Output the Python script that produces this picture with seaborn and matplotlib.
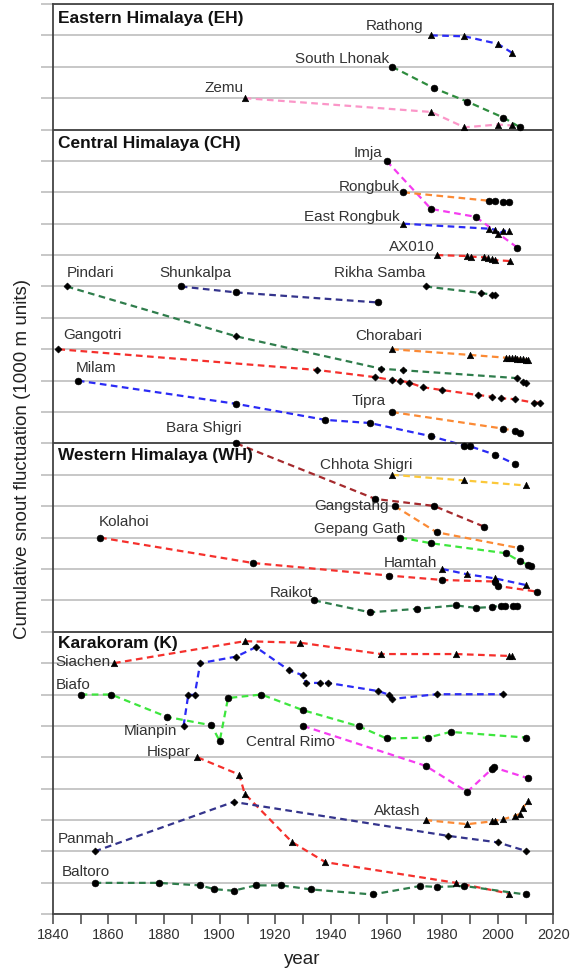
import matplotlib
matplotlib.use("Agg")
import matplotlib.pyplot as plt
import seaborn as sns
import pandas as pd
from matplotlib.transforms import blended_transform_factory

# ---------------- data (cumulative snout fluctuation, 1000 m units, relative to first survey) -------------
# Eastern Himalaya
rathong_years = [1976, 1988, 2000, 2005]
rathong_vals = [0, -0.03, -0.27, -0.55]
south_lhonak_years = [1962, 1977, 1989, 2002, 2008]
south_lhonak_vals = [0, -0.68, -1.11, -1.62, -1.93]
zemu_years = [1909, 1976, 1988, 2000, 2005]
zemu_vals = [0, -0.44, -0.93, -0.84, -0.87]
# Central Himalaya
imja_years = [1960, 1976, 1992, 2007]
imja_vals = [0, -1.53, -1.78, -2.76]
rongbuk_years = [1966, 1997, 1999, 2002, 2004]
rongbuk_vals = [0, -0.27, -0.27, -0.31, -0.32]
east_rongbuk_years = [1966, 1997, 1999, 2000, 2002, 2004]
east_rongbuk_vals = [0, -0.16, -0.19, -0.34, -0.23, -0.23]
ax010_years = [1978, 1989, 1990.5, 1995, 1996.5, 1998, 1999, 2004.5]
ax010_vals = [0, -0.03, -0.05, -0.07, -0.09, -0.13, -0.16, -0.19]
rikha_samba_years = [1974, 1994, 1998, 1999]
rikha_samba_vals = [0, -0.21, -0.26, -0.28]
pindari_years = [1845, 1906, 1958, 1966, 2007, 2009, 2010]
pindari_vals = [0, -1.59, -2.62, -2.67, -2.92, -3.03, -3.08]
shunkalpa_years = [1886, 1906, 1957]
shunkalpa_vals = [0, -0.19, -0.51]
gangotri_years = [1842, 1935, 1956, 1962, 1965, 1968, 1973, 1980, 1993, 1998, 2001, 2006, 2013, 2015]
gangotri_vals = [0, -0.66, -0.89, -0.98, -1.00, -1.06, -1.21, -1.30, -1.46, -1.51, -1.56, -1.59, -1.70, -1.70]
chorabari_years = [1962, 1990, 2003, 2004, 2005, 2006, 2007, 2008, 2009, 2010, 2011]
chorabari_vals = [0, -0.18, -0.27, -0.28, -0.29, -0.29, -0.30, -0.31, -0.32, -0.33, -0.34]
milam_years = [1849, 1906, 1938, 1954, 1976, 1988, 1990, 1999, 2006]
milam_vals = [0, -0.74, -1.25, -1.35, -1.77, -2.07, -2.09, -2.36, -2.65]
tipra_years = [1962, 2002, 2006, 2008]
tipra_vals = [0, -0.53, -0.60, -0.67]
bara_shigri_years = [1906, 1956, 1977, 1995]
bara_shigri_vals = [0, -1.77, -1.99, -2.65]
# Western Himalaya
chhota_shigri_years = [1962, 1988, 2010]
chhota_shigri_vals = [0, -0.18, -0.34]
gangstang_years = [1963, 1978, 2008]
gangstang_vals = [0, -0.83, -1.34]
gepang_gath_years = [1965, 1976, 2003, 2008, 2011, 2012]
gepang_gath_vals = [0, -0.18, -0.50, -0.76, -0.87, -0.92]
hamtah_years = [1980, 1989, 1999, 2010]
hamtah_vals = [0, -0.17, -0.30, -0.51]
kolahoi_years = [1857, 1912, 1961, 1980, 1999, 2000, 2014]
kolahoi_vals = [0, -0.81, -1.21, -1.35, -1.40, -1.54, -1.72]
raikot_years = [1934, 1954, 1971, 1985, 1992, 1998, 2001, 2002.5, 2005.5, 2007]
raikot_vals = [0, -0.38, -0.27, -0.16, -0.24, -0.21, -0.17, -0.17, -0.17, -0.17]
# Karakoram
siachen_years = [1862, 1909, 1929, 1958, 1985, 2004, 2005]
siachen_vals = [0, 0.70, 0.65, 0.29, 0.29, 0.23, 0.23]
biafo_years = [1850, 1861, 1881, 1897, 1900, 1903, 1915, 1930, 1950, 1960, 1975, 1983, 2010]
biafo_vals = [0, 0, -0.71, -0.98, -1.48, -0.11, 0, -0.50, -1.01, -1.40, -1.37, -1.19, -1.37]
mianpin_years = [1887, 1888.7, 1891, 1893, 1906, 1913, 1925, 1930, 1931, 1936, 1939, 1957, 1961, 1962, 1978, 2002]
mianpin_vals = [0, 0.99, 0.99, 2.0, 2.21, 2.51, 1.77, 1.61, 1.37, 1.37, 1.37, 1.11, 0.99, 0.86, 1.01, 1.01]
central_rimo_years = [1930, 1974, 1989, 1998, 1998.5, 2011]
central_rimo_vals = [0, -1.27, -2.10, -1.36, -1.32, -1.67]
hispar_years = [1892, 1907, 1909, 1926, 1938, 1985, 2004]
hispar_vals = [0, -0.55, -1.16, -2.70, -3.34, -4.00, -4.34]
aktash_years = [1974, 1989, 1998, 1999, 2002, 2006, 2008, 2009, 2011]
aktash_vals = [0, -0.13, -0.04, -0.02, 0.03, 0.13, 0.20, 0.40, 0.61]
panmah_years = [1855, 1905, 1982, 2000, 2010]
panmah_vals = [0, 1.58, 0.50, 0.29, 0.02]
baltoro_years = [1855, 1878, 1893, 1898, 1905, 1913, 1922, 1933, 1955, 1972, 1978, 1988, 2010]
baltoro_vals = [0, 0, -0.08, -0.20, -0.25, -0.08, -0.08, -0.21, -0.37, -0.10, -0.13, -0.10, -0.37]

series = [
    ("Rathong", rathong_years, rathong_vals),
    ("South Lhonak", south_lhonak_years, south_lhonak_vals),
    ("Zemu", zemu_years, zemu_vals),
    ("Imja", imja_years, imja_vals),
    ("Rongbuk", rongbuk_years, rongbuk_vals),
    ("East Rongbuk", east_rongbuk_years, east_rongbuk_vals),
    ("AX010", ax010_years, ax010_vals),
    ("Rikha Samba", rikha_samba_years, rikha_samba_vals),
    ("Pindari", pindari_years, pindari_vals),
    ("Shunkalpa", shunkalpa_years, shunkalpa_vals),
    ("Gangotri", gangotri_years, gangotri_vals),
    ("Chorabari", chorabari_years, chorabari_vals),
    ("Milam", milam_years, milam_vals),
    ("Tipra", tipra_years, tipra_vals),
    ("Bara Shigri", bara_shigri_years, bara_shigri_vals),
    ("Chhota Shigri", chhota_shigri_years, chhota_shigri_vals),
    ("Gangstang", gangstang_years, gangstang_vals),
    ("Gepang Gath", gepang_gath_years, gepang_gath_vals),
    ("Hamtah", hamtah_years, hamtah_vals),
    ("Kolahoi", kolahoi_years, kolahoi_vals),
    ("Raikot", raikot_years, raikot_vals),
    ("Siachen", siachen_years, siachen_vals),
    ("Biafo", biafo_years, biafo_vals),
    ("Mianpin", mianpin_years, mianpin_vals),
    ("Central Rimo", central_rimo_years, central_rimo_vals),
    ("Hispar", hispar_years, hispar_vals),
    ("Aktash", aktash_years, aktash_vals),
    ("Panmah", panmah_years, panmah_vals),
    ("Baltoro", baltoro_years, baltoro_vals),
]

regions = ["Eastern Himalaya (EH)", "Central Himalaya (CH)", "Western Himalaya (WH)", "Karakoram (K)"]

# ---------------- layout / style (offset gridline, colour, marker, label placement) -------------
BLUE, NAVY, DGREEN, GREEN, LGREEN = "#2b2bf5", "#34348c", "#2f7d4c", "#2e8c3e", "#3ee63e"
RED, DRED, ORANGE, GOLD, MAGENTA, PINK = "#f5302c", "#a52a2d", "#fb8a35", "#fbc83a", "#f53cf0", "#fb96c8"
style = {
    # name: (baseline, colour, marker, ha, dx_px, dy_px)
    "Rathong": (28, BLUE, "^", "right", -8, 9),
    "South Lhonak": (27, GREEN, "o", "right", -3, 8),
    "Zemu": (26, PINK, "^", "right", -1, 10),
    "Imja": (24, MAGENTA, "o", "right", -4, 8),
    "Rongbuk": (23, ORANGE, "o", "right", -4, 5),
    "East Rongbuk": (22, BLUE, "^", "right", -4, 7),
    "AX010": (21, RED, "^", "right", -2, 8),
    "Rikha Samba": (20, DGREEN, "D", "right", 0, 13),
    "Pindari": (20, DGREEN, "D", "left", 0, 13),
    "Shunkalpa": (20, NAVY, "o", "left", -21, 13),
    "Gangotri": (18, RED, "D", "left", 5, 14),
    "Chorabari": (18, ORANGE, "^", "center", -3, 13),
    "Milam": (17, BLUE, "o", "left", -2, 13),
    "Tipra": (16, ORANGE, "o", "right", -6, 11),
    "Bara Shigri": (15, DRED, "o", "right", 5, 15),
    "Chhota Shigri": (14, GOLD, "^", "right", 20, 10),
    "Gangstang": (13, ORANGE, "o", "right", -6, 0),
    "Gepang Gath": (12, LGREEN, "o", "right", 5, 9),
    "Hamtah": (11, BLUE, "^", "right", -5, 6),
    "Kolahoi": (12, RED, "o", "left", -1, 16),
    "Raikot": (10, DGREEN, "o", "right", -1, 7),
    "Siachen": (8, RED, "^", "right", -4, 1),
    "Biafo": (7, LGREEN, "o", "left", -25, 10),
    "Mianpin": (6, BLUE, "D", "right", -6, -5),
    "Central Rimo": (6, MAGENTA, "o", "center", -13, -16),
    "Hispar": (5, RED, "^", "right", -7, 5),
    "Aktash": (3, ORANGE, "^", "right", -5, 9),
    "Panmah": (2, NAVY, "D", "left", -37, 12),
    "Baltoro": (1, DGREEN, "o", "left", -33, 11),
}
region_title_y = [28.54, 24.56, 14.63, 8.63]
panel_borders = [9, 15, 25]

rows = []
for name, yrs, vals in series:
    for yr, v in zip(yrs, vals):
        rows.append({"glacier": name, "year": yr, "fluct": v})
df = pd.DataFrame(rows)
df["y"] = df["fluct"] + df["glacier"].map({k: s[0] for k, s in style.items()})

# ---------------- plot -------------
sns.set_theme(style="white")
plt.rcParams["font.family"] = ["Liberation Sans", "DejaVu Sans"]

fig = plt.figure(figsize=(5.71, 9.72), dpi=100)
ax = fig.add_axes([0.0925, 0.0594, 0.8768, 0.9365])

for name, _, _ in series:
    sub = df[df["glacier"] == name]
    sns.lineplot(data=sub, x="year", y="y", color=style[name][1], estimator=None, sort=False,
                 lw=1.6, linestyle=(0, (3, 2)), ax=ax, legend=False, zorder=2)

msize = {"o": 24, "^": 22, "D": 13}
for name, _, _ in series:
    sub = df[df["glacier"] == name]
    m = style[name][2]
    sns.scatterplot(data=sub, x="year", y="y", marker=m, s=msize[m], color="black",
                    edgecolor="black", linewidth=0.4, ax=ax, legend=False, zorder=4)

for name, yrs, vals in series:
    base, col, m, ha, dx, dy = style[name]
    ax.annotate(name, xy=(yrs[0], base + vals[0]), xytext=(dx * 0.72, dy * 0.72),
                textcoords="offset points", ha=ha, va="center", fontsize=11, color="#333333", zorder=5)

trans = blended_transform_factory(ax.transAxes, ax.transData)
for title, ty in zip(regions, region_title_y):
    ax.text(0.0094, ty, title, transform=trans, ha="left", va="center",
            fontsize=12.5, fontweight="bold", color="#111111", zorder=5)

for b in panel_borders:
    ax.axhline(b, color="#444444", lw=1.3, zorder=3)

ax.set_xlim(1840, 2020)
ax.set_ylim(0, 29)
ax.set_yticks(range(0, 30))
ax.set_yticklabels([])
ax.yaxis.grid(True, color="#bdbdbd", lw=1.2)
ax.xaxis.grid(False)
ax.set_axisbelow(True)
ax.tick_params(axis="y", which="both", direction="out", length=9, width=1.2, color="#bdbdbd", left=True)
ax.set_xticks(range(1840, 2021, 20))
ax.set_xticks(range(1850, 2020, 20), minor=True)
ax.tick_params(axis="x", which="both", direction="out", length=7, width=1.1, color="#444444",
               bottom=True, labelsize=10.5, labelcolor="#333333", pad=3)
for sp in ax.spines.values():
    sp.set_color("#444444")
    sp.set_linewidth(1.3)
ax.set_xlabel("")
ax.set_ylabel("")
ax.text(-0.0615, 0.5, "Cumulative snout fluctuation (1000 m units)", transform=ax.transAxes,
        rotation=90, ha="center", va="center", fontsize=13.5, color="#222222")
ax.text(0.4977, -0.0502, "year", transform=ax.transAxes, ha="center", va="center",
        fontsize=13.5, color="#222222")

fig.savefig("out.png", dpi=100)
